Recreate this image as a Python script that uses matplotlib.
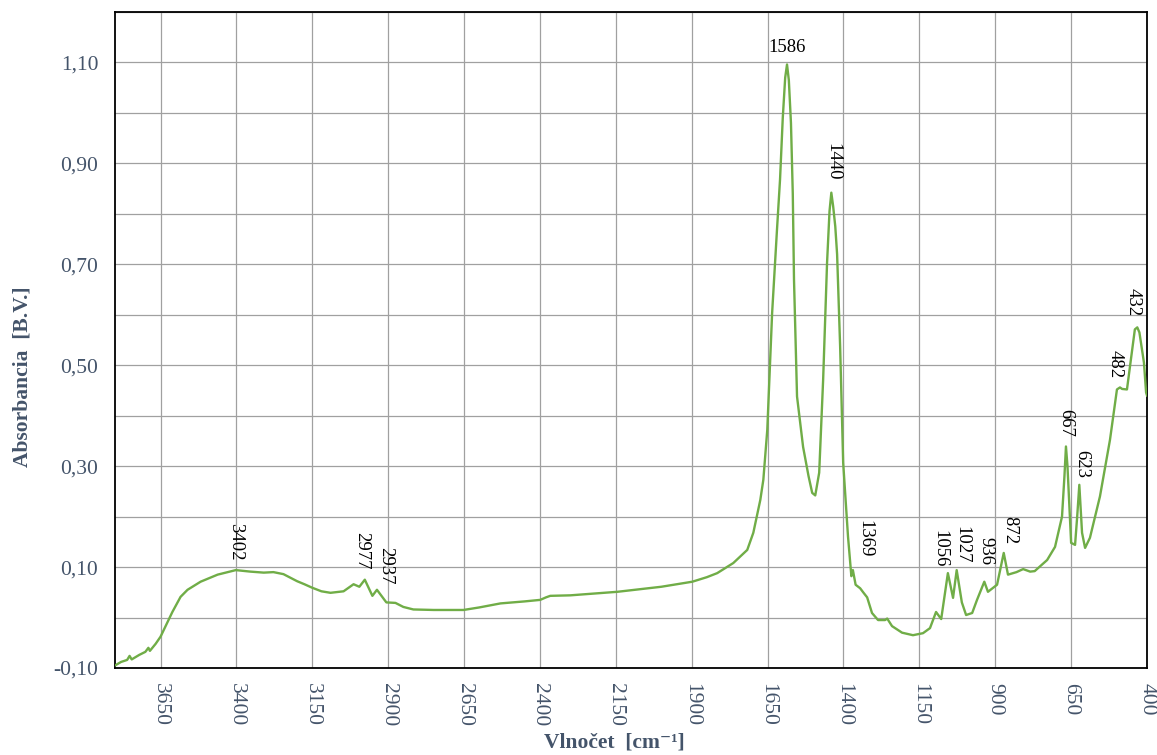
import matplotlib
matplotlib.use("Agg")
import matplotlib.pyplot as plt
from matplotlib.ticker import FixedLocator, FuncFormatter

# IR spektrum - vlnocet [cm-1] a absorbancia
vlnocet = [3800, 3780, 3760, 3752, 3745, 3720, 3700, 3690, 3685, 3666,
           3650, 3627, 3611, 3584, 3561, 3518, 3462, 3402, 3354, 3310,
           3278, 3245, 3200, 3176, 3150, 3120, 3090, 3047, 3014, 2995,
           2977, 2952, 2937, 2906, 2876, 2850, 2817, 2750, 2652, 2600,
           2530, 2450, 2399, 2380, 2366, 2300, 2145, 2000, 1898, 1850,
           1816, 1763, 1717, 1697, 1674, 1664, 1651, 1635, 1619, 1609,
           1600, 1592, 1586, 1580, 1573, 1567, 1563, 1553, 1533, 1515,
           1503, 1493, 1480, 1467, 1454, 1446, 1440, 1434, 1427, 1421,
           1411, 1401, 1385, 1378, 1374, 1369, 1360, 1345, 1335, 1322,
           1306, 1286, 1263, 1256, 1240, 1207, 1171, 1138, 1115, 1095,
           1078, 1056, 1039, 1027, 1010, 996, 976, 960, 936, 924,
           894, 872, 858, 830, 808, 785, 770, 729, 703, 680,
           672, 667, 662, 650, 637, 630, 623, 614, 604, 588,
           555, 522, 499, 489, 482, 466, 440, 432, 425, 410,
           403, 400]
absorbancia = [-0.095, -0.088, -0.084, -0.076, -0.083, -0.074, -0.068, -0.060, -0.066, -0.052,
               -0.038, -0.009, 0.011, 0.041, 0.055, 0.071, 0.085, 0.094, 0.091, 0.089,
               0.090, 0.086, 0.072, 0.066, 0.059, 0.052, 0.049, 0.052, 0.066, 0.061,
               0.075, 0.043, 0.055, 0.030, 0.029, 0.021, 0.016, 0.015, 0.015, 0.020,
               0.028, 0.032, 0.035, 0.040, 0.043, 0.044, 0.051, 0.061, 0.071, 0.080,
               0.088, 0.108, 0.134, 0.168, 0.233, 0.273, 0.372, 0.604, 0.769, 0.868,
               0.990, 1.070, 1.096, 1.065, 0.980, 0.840, 0.670, 0.438, 0.338, 0.280,
               0.247, 0.242, 0.287, 0.471, 0.704, 0.805, 0.842, 0.815, 0.775, 0.720,
               0.537, 0.307, 0.160, 0.110, 0.082, 0.094, 0.065, 0.058, 0.050, 0.040,
               0.009, -0.005, -0.005, -0.002, -0.017, -0.030, -0.035, -0.031, -0.021, 0.011,
               -0.003, 0.088, 0.039, 0.094, 0.030, 0.005, 0.009, 0.035, 0.071, 0.051,
               0.065, 0.128, 0.085, 0.090, 0.096, 0.091, 0.092, 0.114, 0.140, 0.200,
               0.280, 0.339, 0.300, 0.148, 0.144, 0.200, 0.263, 0.168, 0.138, 0.158,
               0.240, 0.352, 0.452, 0.456, 0.453, 0.452, 0.571, 0.575, 0.565, 0.505,
               0.446, 0.440]

# popisky pikov
piky = [3402, 2977, 2937, 1586, 1440, 1369, 1056, 1027, 936, 872, 667, 623, 482, 432]
piky_abs = [0.094, 0.075, 0.055, 1.096, 0.842, 0.094, 0.088, 0.094, 0.071, 0.128,
            0.339, 0.263, 0.456, 0.575]
# posun popiskov v bodoch (dx, dy)
posun = [(0, 7), (-2, 7), (6, 4), (0, 9), (1, 9), (9, 9), (-6, 4), (4, 5),
         (1, 12), (4, 6), (0, 7), (2, 5), (-5, 7), (-3, 8)]

x_ticks = [3650, 3400, 3150, 2900, 2650, 2400, 2150, 1900, 1650, 1400, 1150, 900, 650, 400]
y_ticks = [-0.10, 0.10, 0.30, 0.50, 0.70, 0.90, 1.10]
y_grid = [0.0, 0.2, 0.4, 0.6, 0.8, 1.0, 1.2]

farba_osi = "#44546A"
serif = ["Liberation Serif", "DejaVu Serif"]

fig = plt.figure(figsize=(11.57, 7.55), dpi=100)
ax = fig.add_axes([115 / 1157, 1 - 668 / 755, 1032 / 1157, 656 / 755])

ax.plot(vlnocet, absorbancia, color="#70AD47", lw=1.7, zorder=3)

ax.set_xlim(3800, 400)
ax.set_ylim(-0.1, 1.2)

ax.xaxis.set_major_locator(FixedLocator(x_ticks))
ax.yaxis.set_major_locator(FixedLocator(y_ticks))
ax.yaxis.set_minor_locator(FixedLocator(y_grid))
ax.yaxis.set_major_formatter(FuncFormatter(lambda v, p: ("%.2f" % v).replace(".", ",")))

ax.grid(True, which="both", color="#a0a0a0", lw=0.9)
ax.tick_params(which="both", length=0)
ax.tick_params(axis="y", pad=12, labelsize=15.5, labelcolor=farba_osi)
ax.tick_params(axis="x", pad=11, labelsize=15.5, labelcolor=farba_osi, labelrotation=270)
for lab in ax.get_xticklabels() + ax.get_yticklabels():
    lab.set_family(serif)
for s in ax.spines.values():
    s.set_linewidth(1.3)
    s.set_color("black")

ax.set_ylabel("Absorbancia  [B.V.]", fontsize=15.5, fontweight="bold",
              color=farba_osi, family=serif, va="center")
ax.yaxis.set_label_coords(-0.09, 0.444)
ax.set_xlabel("Vlnočet  [cm⁻¹]", fontsize=15.5, fontweight="bold",
              color=farba_osi, family=serif, va="center")
ax.xaxis.set_label_coords(0.4835, -0.114)

for v, a, (dx, dy) in zip(piky, piky_abs, posun):
    if v == 1586:
        ax.annotate(str(v), (v, a), xytext=(dx, dy), textcoords="offset points",
                    ha="center", va="baseline", fontsize=13.5, family=serif)
    else:
        ax.annotate(str(v), (v, a), xytext=(dx, dy), textcoords="offset points",
                    ha="center", va="bottom", rotation=270, fontsize=13.5, family=serif)

fig.savefig("out.png", dpi=100)
